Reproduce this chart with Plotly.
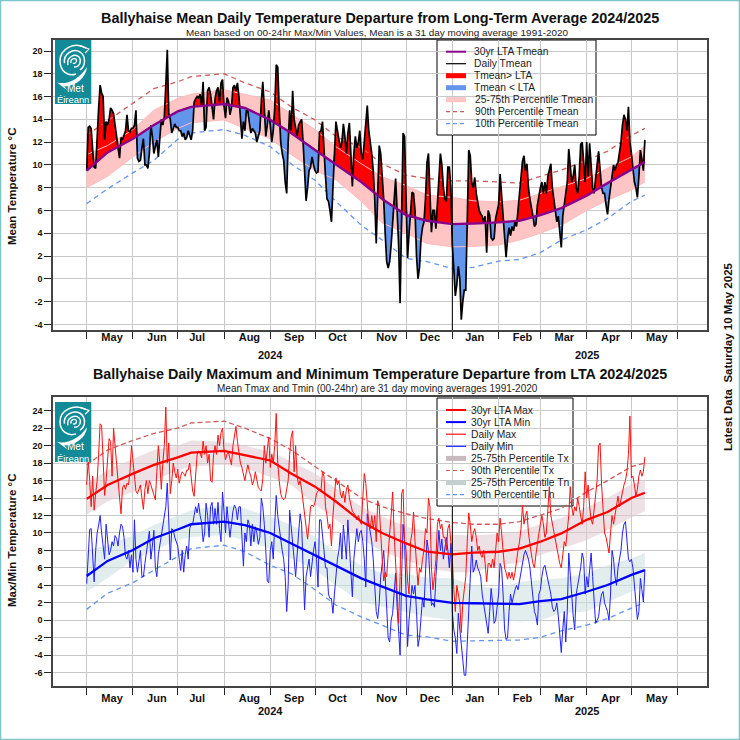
import numpy as np
import pandas as pd
import plotly.graph_objects as go

# ---------- daily values ----------
MEAN_24 = [9.5,13.3,13.4,13.2,11.3,9.8,9.7,13,15,17,16.3,16,12.2,13.8,13.5,14,15,14.8,14.5,13.5,12.5,11.2,10.6,12.4,12.2,12.6,13,14.4,13,12.9,13.2,
 13.2,13.5,14.8,10.6,10.3,10.4,11.5,12.3,10,10,9.7,11,13.5,12.5,11,11.5,12.2,10.7,12.5,14,13.5,14.2,17,20.1,14.5,14,12.8,13.2,13.6,13.3,
 13.3,13,13,12.5,12.8,12.2,12.4,13,12.6,12.2,13,15.5,15.8,16,15.9,16.2,15.2,17.3,13,13.3,16.5,16.8,16.2,15.2,14,15.8,16.5,16.8,15.5,17.2,17.5,
 15.2,14.1,15.9,15.6,14.4,15,16.8,17,16.5,17.2,16,14.5,12.3,13.8,13,14.8,14.7,13.7,12.8,13.2,13,12.8,12,12.5,13,15.5,17.3,15,12.5,13.5,14.8,
 13.5,12,13,15,18.8,18.6,15,12,11,10.4,8.5,7.5,12,14.8,13,16.5,14,13,12.5,13.5,13.7,14,12,9,6.85,8,9.5,9.8,10.7,10,
 9.5,9.3,9.4,12.9,13,13.8,11,9,7,6.8,6,5,8,11.4,13.8,13,12.2,11.5,12,13.6,12.5,11,12.8,13.7,11,8.1,11,12.5,11.5,12,13,
 11,10.5,12,14,15.2,13,12,11,9.5,7,3.1,8,11.7,11,9,7,4,1.5,.95,1.5,3,5,7,8.8,6,3,-2.15,4,12.8,12.5,
 7,1.8,4,6,7.6,7.5,6,2,0,1,3.5,4.5,5,7,10.2,11,8,4.1,6,6,4.4,7,9,11,10,8,7,6.8,9.8,9.8,8]
MEAN_25 = [3,.8,-1.5,-.5,1.1,0,-3.6,-2,-1,-1,4,11.3,10.8,8.5,8,8.9,7.5,6.5,6,5.7,5.5,5,5.5,2.3,6,5.6,3.6,3.4,3.55,5.3,5.8,
 6.5,9.2,7.5,5.5,3.5,1.9,3.5,4.5,3.8,4.6,4.2,5,4.6,6,6.8,8.5,10.3,10.8,9.5,10.1,8,7,6,5.5,4.6,4.8,6.5,7.5,
 8,8.5,7.5,8.5,7.5,9,9.5,10.1,8,7,6,5,5.5,4,2.75,5.5,6.5,7,8.5,11.4,10,8.5,9,10,8,7.5,9,11.8,12,10.5,8.5,
 12,9,11.9,10,8,7.5,9,10,11.2,9.5,8,7.5,7.5,6.5,5.65,7,8,9,10,9.5,10,10.2,11,12,13.5,14.4,14,13,15.1,12,
 11,9.5,8.5,8,7.15,9,11.3,10.5,9.5,12.2]
TMAX_24 = [15.5,18.3,16,13,16.5,12.6,14.5,16,19,22.5,22.3,19,14.3,16,18,20.8,20.5,16.5,22,19.5,18,16,14,12.2,15.2,15.5,15,15.7,15.5,17,20,
 18.5,17,14.8,14.5,15,15.5,14,12.7,15,16,14.5,16,15.5,15,14.5,13.8,17,20,18,15,18,20,24.4,18,20.3,14.5,16,18,17,16.3,
 17.3,15.7,16.5,17,16.8,16.5,17.2,17.2,18,16,14.8,14.2,17,19,19.4,19.2,18.6,20.5,19,20,18,19,16,15.8,19,20,19,21.2,20,21.5,22,
 19.5,18.4,19,19.2,18.5,17.8,20,21,22.2,20.5,19,18,17.5,16.5,16,17,17.8,17,16.5,15.5,16,17,16,15.2,15,14.8,16.2,20,18,20,21,
 17.5,19,18,20,23.7,18,16,14.5,14,13.8,14,15,16,19,21,21.7,17,20,16.5,15.5,16,15,13.5,12,11,9.3,11,13,13.2,13,
 13.5,14.5,14.8,15,14.8,17,16.5,13,12,10.5,11,8.5,12,14.5,16.3,15.5,16,14.5,14,14.8,13.5,15,15.5,14,13,12.5,12.3,12,11.5,12,11.5,
 11,14,16.8,15.7,13,11,10.5,12,10.5,12,9,13.7,13,9.5,7,4.5,5.5,5,8,10,12,14.7,10,6,2.5,-.35,5,14.5,15,9,
 8,4.5,3,9,10,12.4,9,6.5,4,6,5.5,7,8,10.5,10,14,13,6,3.5,5,7,11,11.7,10.5,11,9.5,9.5,8,10.5,11,9]
TMAX_25 = [7,3.5,1,4,3,2,-1.4,2,3.5,5,9,12.3,11,9,10,10.5,9.5,8,8.5,7.5,7.2,8,6.5,4.4,6.5,6.5,6,7,6,8,10,
 9,11.7,10,8,6,5.5,4.7,5.5,4.8,5.5,4.6,5.5,7,8,9,10.5,13.2,11,12,12.5,10,8.5,7.5,6.5,6,7.5,9,10,
 11,12,11,9.5,10,13,15.3,12,11,10,9,8,7,6.5,6,8,9,8.5,10,12,15.3,13,12,13,12.5,14,13,12,11,13,17,
 14,15.5,13,11.5,11,13,14,16,20,20.3,15.5,12,10,9.5,8.5,7.7,10,12,11,12,13,14.2,13,14,14.5,15.5,16,17,19,23.4,
 16.3,16.5,15.5,14.2,15,16.5,17.2,16.5,17,18.7]
TMIN_24 = [4.2,8,10.4,10.5,8,4.4,8,10,10.9,12,10,8,7,11,9,7.5,8,9,8.5,9.7,9.4,8.5,10,11,10.7,9.5,7.3,7,8,6,7.5,
 5.5,11.5,7,5.5,7,8,5,5,6.5,8,9,10.2,7,8.5,10.3,6,5,7.5,8.5,10,11,12,13,15.7,12,6.9,10.5,10.3,9.5,9,
 8.5,7,5.7,8,5.5,7.5,8.5,7,10.5,11,11,12,13,12.3,13.4,12,11.2,9,10,13.4,12,9.5,13,13.5,11,12.8,11,13.5,10.5,9,14.7,
 12.5,10,13,11,9.5,11,12.5,13.2,12.8,11.5,13,13,10,6.2,10,9,11.5,11,8.5,11,9,10.7,10,8.7,9.5,14,13,11,8,4.5,4.3,
 8,9,7,11,14.3,12,10.5,9,8,7,5,1,4,12.6,11,9,7,5,7,10,12.2,11,6,1.2,5,6,7,5,7,8,
 9,7,3.8,11.5,11.5,10,8,6,6,3,2.5,2.5,.8,3,5,7,8,10,7,10.9,9,7,11.5,8,5,2.7,7,9,10.5,9,10,
 10.3,9,7,3.8,12.2,11,10,9,7,4,1,.2,2,5,6.5,8,5,1.5,-2,-2.5,0,.8,3,5.4,1.5,-2,-4,5,11,9,
 4,-3,0,2,4,3,4,1,-3,-2,1,2.5,1.5,5,9.2,8,5,1.7,2,1.5,5,8,10.3,8,9.3,7,8,9.5,8,6,8.8]
TMIN_25 = [1,-1.1,-2,-3.8,.8,-1,-3,-5,-6.3,-6.3,-3,.6,5,8.5,5.5,6,6.9,6,5.6,5,3,2,1,0,-1.5,1,3.65,2,-.35,0,1.4,
 3,6.5,6,3,-1,-2.2,-2,1,3,2,3,3.5,4,3.5,4.5,5.5,7,7.5,8,7.5,7,6,4,3,1,.5,-.55,3,
 3.5,5,6,6.3,5.5,5,4,3,1.5,1,1.2,2,.5,-2,-3.7,-1,1,-2.5,1,7.7,5,2,.5,-1.1,3,4,5,6,7.7,7,3,
 5,3.8,5.5,7.7,5,2,-.35,0,.4,2,3,3.3,2,1.5,1,0,3,8,7,5,4,6,7,8,10,11,11.3,9.5,7,6.7,
 7,6,4,2,.1,1,4.8,3.5,2.1,5.8]

# ---------- climatology ----------
CLIM_DATES = ["2024-05-01","2024-05-15","2024-06-01","2024-06-15","2024-07-01","2024-07-10","2024-08-01","2024-08-15",
 "2024-09-01","2024-09-15","2024-10-01","2024-10-15","2024-11-01","2024-11-15","2024-12-01","2024-12-15",
 "2025-01-01","2025-01-15","2025-02-01","2025-02-15","2025-03-01","2025-03-15","2025-04-01","2025-04-15","2025-05-01","2025-05-10"]
LTA_MEAN = [9.5,11.1,12.3,13.5,14.7,15.1,15.35,15,13.95,12.8,11.3,10,8.5,7,5.6,5.1,4.8,4.85,4.95,5.1,5.6,6.2,7.3,8.4,9.6,10.25]
P75_MEAN = [10.9,11.7,13.1,14.8,15.85,16.2,16.6,16.2,15.7,14.5,13.1,11.6,10.1,8.95,8.2,7.35,7.15,6.85,6.75,6.9,7.5,8.1,8.8,9.7,10.7,11.7]
P25_MEAN = [8,9,10.7,12,13.2,13.7,13.95,13.2,12.3,10.9,9.5,8.7,6.8,4.9,4,3.1,2.8,2.85,2.96,3.4,4,4.7,6,6.9,7.8,8.5]
P90_MEAN = [12.6,13.9,15.4,16.7,17.3,17.75,18,17.2,16.4,15.1,13.95,12.5,11.5,10.1,9.1,8.8,8.6,8.6,8.5,8.4,9,9.55,10.4,11.2,12.6,13.2]
P10_MEAN = [6.6,7.9,9.3,10.4,12.25,12.8,13.1,12.6,11.6,10.1,8.65,6.8,4.7,3.4,1.8,1.5,.9,1,1.55,1.7,2.3,3.4,4.3,5.3,6.8,7.35]
LTA_TX = [13.9,15.5,16.8,17.8,18.65,19.2,19.4,18.9,18.3,16.8,15.3,13.6,11.3,10,8.8,7.85,7.55,7.75,7.85,8.2,9,9.95,11.5,12.4,14,14.6]
LTA_TN = [5.07,6.8,8.05,9.4,10.4,11,11.3,10.9,10,8.8,7.4,6.2,4.8,3.85,2.8,2.4,2,1.95,1.94,1.86,2.2,2.43,3.27,4.04,5.2,5.75]
P75_TX = [15.7,17.2,18.5,19.5,20,20.6,20.45,20,19.3,18.2,16.8,15.1,13,11.9,10.7,10.2,9.8,9.7,9.9,10.2,11,11.7,13,14,15.6,16]
P25_TX = [12.1,13.6,14.7,16,17.2,17.6,17.8,17.4,16.4,15.5,13.3,11.5,9.3,7.9,6.9,6,5.5,5.5,6.3,6.6,7.5,8.2,9.2,10.3,11.8,12.5]
P90_TX = [17.8,19.5,20.6,21.4,22,22.6,22.8,22,20.8,19.5,17.6,16,14,13,12.2,11.65,11.2,11,11,11.3,12.05,12.8,14.7,16,17.6,18]
P75_TN = [8,8.6,9.75,10.9,12,12.6,13.2,12.8,11.85,10.9,9.6,7.85,6.3,5.4,5.3,4.9,4.8,4,3.65,4.4,4.6,4.8,5.4,6.3,7.1,7.7]
P25_TN = [3.27,4.8,6.9,8,9.2,9.55,9.75,9.2,8.2,7.1,5.75,4,2.1,1.55,.9,.4,0,-.15,.03,-.15,0,.8,1,2.1,3.3,3.85]
P10_TN = [1.25,3.1,4.3,5.75,7.3,8.2,8.6,7.85,6.3,5.35,3.5,1.75,.4,-.55,-1.7,-1.9,-2.4,-2.35,-2.26,-2.26,-1.95,-1.2,-.55,.2,1.4,2.05]

# ---------- axis labels ----------
MONTH_STARTS = ["2024-05-01","2024-06-01","2024-07-01","2024-08-01","2024-09-01","2024-10-01","2024-11-01","2024-12-01",
 "2025-01-01","2025-02-01","2025-03-01","2025-04-01","2025-05-01","2025-06-01"]
MONTH_LABELS = ["May","Jun","Jul","Aug","Sep","Oct","Nov","Dec","Jan","Feb","Mar","Apr","May"]
MONTH_LABEL_AT = ["2024-05-18","2024-06-17","2024-07-14","2024-08-18","2024-09-17","2024-10-16","2024-11-18","2024-12-17",
 "2025-01-16","2025-02-17","2025-03-17","2025-04-17","2025-05-18"]
YEAR_LABELS = [("2024","2024-09-01"),("2025","2025-04-01")]
NEW_YEAR = "2025-01-01"

FONT = "Liberation Sans"
W = H = 740
START = pd.Timestamp("2024-05-01")
PX_DAY = 1.4924
X0 = 86.7

def xd(px):
    return START + pd.Timedelta(days=(px - X0) / PX_DAY)
def yv1(py):
    return 20 - (py - 51) / 11.39
def yv2(py):
    return 24 - (py - 410.7) / 8.733
def py(p):
    return 1 - p / H
def pxx(p):
    return p / W

dates = pd.date_range(START, periods=len(MEAN_24) + len(MEAN_25))
mean = np.array(MEAN_24 + MEAN_25, float)
tmax = np.array(TMAX_24 + TMAX_25, float)
tmin = np.array(TMIN_24 + TMIN_25, float)
clim = pd.to_datetime(CLIM_DATES)
lta_daily = np.interp(dates.astype("int64"), clim.astype("int64"), LTA_MEAN)

fig = go.Figure()
R1 = dict(xaxis="x", yaxis="y", showlegend=False, hoverinfo="skip")
R2 = dict(xaxis="x2", yaxis="y2", showlegend=False, hoverinfo="skip")

def band(lo, hi, color, r):
    fig.add_trace(go.Scatter(x=clim, y=lo, mode="lines", line=dict(width=0), **r))
    fig.add_trace(go.Scatter(x=clim, y=hi, mode="lines", line=dict(width=0), fill="tonexty", fillcolor=color, **r))

def line(y, color, width, r, dash=None, x=None):
    fig.add_trace(go.Scatter(x=clim if x is None else x, y=y, mode="lines",
                             line=dict(color=color, width=width, dash=dash), **r))

# --- top panel
band(P25_MEAN, P75_MEAN, "#ffc4c4", R1)
fig.add_trace(go.Scatter(x=dates, y=lta_daily, mode="lines", line=dict(width=0), **R1))
fig.add_trace(go.Scatter(x=dates, y=np.maximum(mean, lta_daily), mode="lines", line=dict(width=0),
                         fill="tonexty", fillcolor="#ff0000", **R1))
fig.add_trace(go.Scatter(x=dates, y=lta_daily, mode="lines", line=dict(width=0), **R1))
fig.add_trace(go.Scatter(x=dates, y=np.minimum(mean, lta_daily), mode="lines", line=dict(width=0),
                         fill="tonexty", fillcolor="#6495ed", **R1))
line(P75_MEAN, "#ffbcbc", 1, R1)
line(P25_MEAN, "#ffbcbc", 1, R1)
line(P90_MEAN, "#cd5c5c", 1.3, R1, "5px,4px")
line(P10_MEAN, "#6495ed", 1.3, R1, "5px,4px")
line(mean, "#000000", 1.7, R1, x=dates)
line(LTA_MEAN, "#8b008b", 2.4, R1)
line([yv1(330), yv1(135)], "#000000", 1, R1, x=[NEW_YEAR, NEW_YEAR])

# --- bottom panel
band(P25_TX, P75_TX, "rgba(222,200,208,0.55)", R2)
band(P25_TN, P75_TN, "rgba(205,226,226,0.58)", R2)
line(P90_TX, "#cd5c5c", 1.3, R2, "5px,3px")
line(P10_TN, "#6495ed", 1.3, R2, "5px,4px")
line(tmin, "#2020ff", 1, R2, x=dates)
line(tmax, "#ff1010", 1, R2, x=dates)
line(LTA_TX, "#ff0000", 2.3, R2)
line(LTA_TN, "#0000ff", 2.3, R2)
line([yv2(686.3), yv2(506)], "#000000", 1, R2, x=[NEW_YEAR, NEW_YEAR])

# ---------- layout pieces ----------
shapes, annos = [], []

def text(x, y, s, size, bold=False, anchor="center", color="#111111", angle=0, xanchor=None):
    annos.append(dict(xref="paper", yref="paper", x=pxx(x), y=py(y), text=f"<b>{s}</b>" if bold else s,
                      showarrow=False, xanchor=xanchor or anchor, yanchor="middle", textangle=angle,
                      font=dict(family=FONT, size=size, color=color), borderpad=0))

def legend_box(x0, x1, y0, y1, xaxis, yaxis, yf):
    shapes.append(dict(type="rect", xref=xaxis, yref=yaxis, layer="below", x0=xd(x0), x1=xd(x1), y0=yf(y0), y1=yf(y1),
                       fillcolor="#ffffff", line=dict(color="#000000", width=1)))

def sample(y, color, width, dash=None):
    shapes.append(dict(type="line", xref="paper", yref="paper", layer="above", x0=pxx(446), x1=pxx(466), y0=py(y), y1=py(y),
                       line=dict(color=color, width=width, dash=dash)))

# top legend
legend_box(437, 596, 40, 135, "x", "y", yv1)
TOP_LEG = [("30yr LTA Tmean","#8b008b",2,None),("Daily Tmean","#000000",1.2,None),("Tmean&gt; LTA","#ff0000",5,None),
           ("Tmean &lt; LTA","#6495ed",5,None),("25-75th Percentile Tmean","#ffc4c4",5,None),
           ("90th Percentile Tmean","#cd5c5c",1.2,"4px,3px"),("10th Percentile Tmean","#6495ed",1.2,"4px,3px")]
for i, (s, c, w, d) in enumerate(TOP_LEG):
    yy = 51.7 + i * 12
    sample(yy, c, w, d)
    text(473.5, yy, s, 10.3, anchor="left", color="#222222")

# bottom legend
legend_box(437, 573, 398, 506, "x2", "y2", yv2)
BOT_LEG = [("30yr LTA Max","#ff0000",2,None),("30yr LTA Min","#0000ff",2,None),("Daily Max","#ff1010",1.2,None),
           ("Daily Min","#2020ff",1.2,None),("25-75th Percentile Tx","#c9b8bd",5,None),("90th Percentile Tx","#cd5c5c",1.2,"4px,3px"),
           ("25-75th Percentile Tn","#c2d0d0",5,None),("90th Percentile Tn","#6495ed",1.2,"4px,3px")]
for i, (s, c, w, d) in enumerate(BOT_LEG):
    yy = 410 + i * 12.1
    sample(yy, c, w, d)
    text(470, yy, s, 10.3, anchor="left", color="#222222")

# logos: teal square, white swirl drawn as vector paths, real text
SWIRL_STROKES = [
    (1.5, "M", [(31,8)], [[(19,1),(5,9),(5,21)], [(5,31),(13,37),(21,34)]]),
    (1.5, "M", [(9.5,23)], [[(8,14),(18,8),(25,12)], [(31,16),(31,26),(25,30)]]),
    (1.4, "M", [(13,25)], [[(11,17),(20,13),(24,17)], [(27,21),(25,27),(19,27)]]),
    (1.3, "M", [(16,23)], [[(15,19),(20,17),(21.5,20)], [(22,23),(19,24),(18,23)]]),
    (1.2, "M", [(25,6)], [[(28,7),(31,8),(34,9)], [(33,10.5),(31,12),(30,13)]]),
]
SWOOSH = [(2,42.5), [(11,45),(24,40),(32,27)], [(31,38),(21,46),(9,46.5)], [(10,47),(11,48),(12,50)]]

def logo_path(pts_start, curves, top, sy, close=False):
    fx = lambda x: pxx(55 + x)
    fy = lambda y: py(top + y * sy)
    s = f"M{fx(pts_start[0]):.5f},{fy(pts_start[1]):.5f}"
    for c in curves:
        s += " C" + " ".join(f"{fx(a):.5f},{fy(b):.5f}" for a, b in c)
    return s + (" Z" if close else "")

for top, bot, ty1, ty2 in [(40, 104, 88.2, 100), (402, 462, 446.3, 458)]:
    sy = (bot - top) / 64
    shapes.append(dict(type="rect", xref="paper", yref="paper", layer="above", x0=pxx(55), x1=pxx(91.3), y0=py(top), y1=py(bot),
                       fillcolor="#128a98", line=dict(width=0)))
    for w, _, st, cv in SWIRL_STROKES:
        shapes.append(dict(type="path", xref="paper", yref="paper", layer="above",
                           path=logo_path(st[0], cv, top, sy), line=dict(color="#ffffff", width=w)))
    shapes.append(dict(type="path", xref="paper", yref="paper", layer="above",
                       path=logo_path(SWOOSH[0], SWOOSH[1:], top, sy, close=True), fillcolor="#ffffff", line=dict(width=0)))
    text(75.8, ty1, "Met", 10, color="#ffffff")
    text(73.3, ty2, "Éireann", 9.4, color="#ffffff")

# outer teal frame
shapes.append(dict(type="rect", xref="paper", yref="paper", layer="above", x0=0.0007, x1=0.9993, y0=0.0007, y1=0.9993,
                   line=dict(color="#7fc6ca", width=1.5)))

# titles
text(380, 17.5, "Ballyhaise Mean Daily Temperature Departure from Long-Term Average 2024/2025", 14.4, bold=True)
text(377, 32, "Mean based on 00-24hr Max/Min Values, Mean is a 31 day moving average 1991-2020", 9.92, color="#222222")
text(379.5, 373.5, "Ballyhaise Daily Maximum and Minimum Temperature Departure from LTA 2024/2025", 14.35, bold=True)
text(377, 389, "Mean Tmax and Tmin (00-24hr) are 31 day moving averages 1991-2020", 10, color="#222222")
text(12, 186, "Mean Temperature °C", 11.5, bold=True, angle=-90)
text(12, 541, "Max/Min Temperature °C", 11.5, bold=True, angle=-90)
text(728, 357, "Latest Data  Saturday 10 May 2025", 11.5, bold=True, angle=-90)
for s, d in YEAR_LABELS:
    annos.append(dict(xref="x", yref="paper", x=d, y=py(355), text=f"<b>{s}</b>", showarrow=False, yanchor="middle",
                      font=dict(family=FONT, size=11, color="#111111")))
    annos.append(dict(xref="x2", yref="paper", x=d, y=py(711), text=f"<b>{s}</b>", showarrow=False, yanchor="middle",
                      font=dict(family=FONT, size=11, color="#111111")))

GRID = "#c9c9c9"
def xaxis(anchor, standoff):
    return dict(type="date", domain=[pxx(53), pxx(707)], range=[xd(53), xd(707)], anchor=anchor,
                tickmode="array", tickvals=MONTH_LABEL_AT, ticktext=[f"<b>{m}</b>" for m in MONTH_LABELS],
                ticks="", ticklen=0, showgrid=False, ticklabelstandoff=standoff,
                tickfont=dict(family=FONT, size=11, color="#111111"),
                minor=dict(tickmode="array", tickvals=MONTH_STARTS, ticks="outside", ticklen=7, tickwidth=1, tickcolor="#222222",
                           showgrid=True, gridcolor=GRID, gridwidth=1.2),
                showline=True, linecolor="#444444", linewidth=1.5, mirror=True, zeroline=False)
def yaxis(anchor, dom, rng, vals):
    return dict(domain=dom, range=rng, anchor=anchor, tickmode="array", tickvals=vals, ticktext=[f"<b>{v}</b>" for v in vals],
                ticks="outside", ticklen=7, tickwidth=1, tickcolor="#222222", ticklabelstandoff=0,
                tickfont=dict(family=FONT, size=9, color="#111111"), gridcolor=GRID, gridwidth=1.2, showgrid=True,
                showline=True, linecolor="#444444", linewidth=1.5, mirror=True, zeroline=False)

fig.update_layout(
    width=W, height=H, autosize=False, margin=dict(l=0, r=0, t=0, b=0), paper_bgcolor="#ffffff", plot_bgcolor="#ffffff",
    showlegend=False, shapes=shapes, annotations=annos,
    xaxis=xaxis("y", -4), xaxis2=xaxis("y2", 1),
    yaxis=yaxis("x", [py(330), py(40)], [yv1(330), yv1(40)], list(range(-4, 21, 2))),
    yaxis2=yaxis("x2", [py(686.3), py(396.7)], [yv2(686.3), yv2(396.7)], list(range(-6, 25, 2))),
)
fig.write_html("out.html", config=dict(displayModeBar=False),
               post_script="document.body.style.margin='0';document.body.style.overflow='hidden';")
